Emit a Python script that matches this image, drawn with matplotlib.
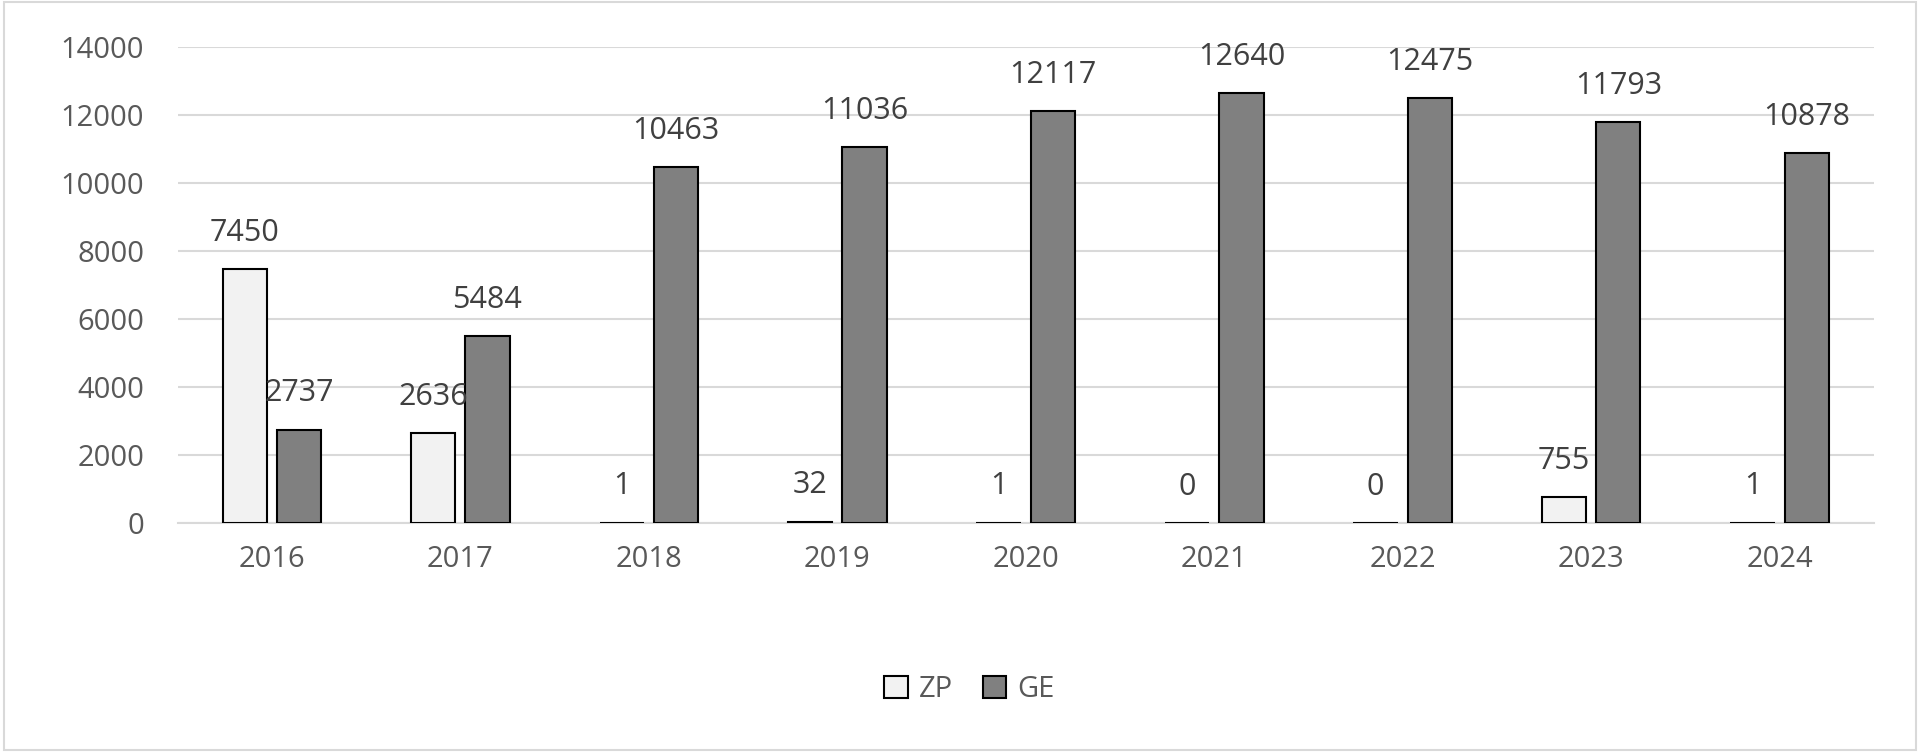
import matplotlib
matplotlib.use("Agg")
import matplotlib.pyplot as plt
import numpy as np
from matplotlib.patches import Rectangle

years = ["2016","2017","2018","2019","2020","2021","2022","2023","2024"]
zp = [7450, 2636, 1, 32, 1, 0, 0, 755, 1]
ge = [2737, 5484, 10463, 11036, 12117, 12640, 12475, 11793, 10878]

plt.rcParams['font.family'] = ['Open Sans', 'DejaVu Sans']
fig = plt.figure(figsize=(19.2, 7.52), dpi=100)
ax = fig.add_axes([0.0925, 0.305, 0.8835, 0.633])
x = np.arange(len(years))
w = 0.235
off = 0.144
tc = '#595959'
b1 = ax.bar(x - off, zp, w, color='#f2f2f2', edgecolor='black', linewidth=1.5, label='ZP', zorder=3)
b2 = ax.bar(x + off, ge, w, color='#808080', edgecolor='black', linewidth=1.5, label='GE', zorder=3)
for bars, vals in ((b1, zp), (b2, ge)):
    for r, v in zip(bars, vals):
        ax.annotate(str(v), (r.get_x() + r.get_width()/2, v), xytext=(0, 26),
                    textcoords='offset points', ha='center', va='center',
                    fontsize=22, color='#404040', zorder=4)
ax.set_xlim(-0.5, len(years) - 0.5)
ax.set_ylim(0, 14000)
ax.set_yticks(range(0, 14001, 2000))
ax.set_xticks(x)
ax.set_xticklabels(years)
ax.tick_params(length=0, labelsize=21, colors=tc, pad=16)
ax.tick_params(axis='y', pad=24)
ax.grid(axis='y', color='#d9d9d9', linewidth=1.5, zorder=0)
for s in ['top', 'right', 'left']:
    ax.spines[s].set_visible(False)
ax.spines['bottom'].set_color('#d9d9d9')
ax.spines['bottom'].set_linewidth(1.5)
fig.legend(handles=[b1, b2], loc='center', bbox_to_anchor=(0.505, 0.083), ncol=2,
           frameon=False, fontsize=21, labelcolor=tc, handlelength=0.8, handleheight=0.8,
           columnspacing=1.0, handletextpad=0.4)
fig.patches.append(Rectangle((0.002, 0.003), 0.996, 0.994, transform=fig.transFigure,
                             fill=False, edgecolor='#d9d9d9', linewidth=1.5))
fig.savefig("out.png", dpi=100, facecolor='white')
